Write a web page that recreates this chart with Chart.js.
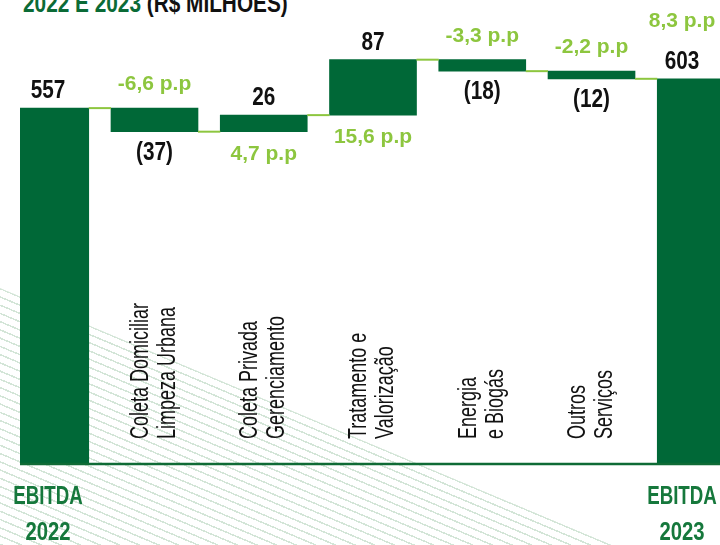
<!DOCTYPE html>
<html lang="pt-BR">
<head>
<meta charset="utf-8">
<title>EBITDA 2022 e 2023</title>
<script src="https://cdn.jsdelivr.net/npm/chart.js@4.4.0/dist/chart.umd.min.js"></script>
<style>
  html, body { margin: 0; padding: 0; background: #fff; }
  #wrap { position: relative; width: 720px; height: 545px; overflow: hidden; }
  #hatch {
    position: absolute; left: 0; top: 0; width: 720px; height: 545px;
    background: repeating-linear-gradient(22.8deg, #d3e5d7 0 1.5px, transparent 1.5px 7.6px);
    clip-path: polygon(0 288px, 612px 545px, 0 545px);
  }
  #title {
    position: absolute; left: 23px; top: -10px; white-space: nowrap;
    font: bold 26px "Liberation Sans", Arial, sans-serif;
    line-height: 26px; color: #111;
    transform: scaleX(0.8); transform-origin: 0 0;
  }
  #title .g { color: #0b6b36; }
  canvas { position: absolute; left: 0; top: 0; }
</style>
</head>
<body>
<div id="wrap">
  <div id="hatch"></div>
  <div id="title"><span class="g">2022 E 2023</span> (R$ MILHÕES)</div>
  <canvas id="chart" width="720" height="545"></canvas>
</div>
<script>
// categorias (duas linhas cada)
const categories = [
  ['EBITDA', '2022'],
  ['Coleta Domiciliar', 'Limpeza Urbana'],
  ['Coleta Privada', 'Gerenciamento'],
  ['Tratamento e', 'Valorização'],
  ['Energia', 'e Biogás'],
  ['Outros', 'Serviços'],
  ['EBITDA', '2023']
];
const changes = [557, -37, 26, 87, -18, -12, 603];
const isTotal = [true, false, false, false, false, false, true];
const marginPp = ['', '-6,6 p.p', '4,7 p.p', '15,6 p.p', '-3,3 p.p', '-2,2 p.p', '8,3 p.p'];

const darkGreen = '#006837';
const lime = '#8dc63f';
const labelGreen = '#16783c';
const sans = '"Liberation Sans", Arial, sans-serif';
const numFont = 'bold 25px ' + sans;
const ppFont = 'bold 21px ' + sans;

// barras flutuantes do waterfall
let running = 0;
const levels = [];
const barData = changes.map((v, i) => {
  let lo, hi;
  if (isTotal[i]) {
    lo = 0; hi = v;
  } else {
    lo = running; hi = running + v;
  }
  running = hi;
  levels.push(running);
  return { x: i, y: [lo, hi] };
});

function valueText(v) {
  return v < 0 ? '(' + Math.abs(v) + ')' : String(v);
}

// texto condensado (a fonte original é uma condensada)
function drawText(ctx, str, x, y, font, color, squeeze) {
  ctx.save();
  ctx.translate(x, y);
  ctx.scale(squeeze, 1);
  ctx.font = font;
  ctx.fillStyle = color;
  ctx.fillText(str, 0, 0);
  ctx.restore();
}

const waterfallLabels = {
  id: 'waterfallLabels',
  afterDatasetsDraw(chart) {
    const ctx = chart.ctx;
    const area = chart.chartArea;
    const yScale = chart.scales.y;
    const bars = chart.getDatasetMeta(0).data;
    ctx.save();

    // linhas de ligação
    ctx.strokeStyle = lime;
    ctx.lineWidth = 2;
    for (let i = 0; i < bars.length - 1; i++) {
      const yy = yScale.getPixelForValue(levels[i]);
      ctx.beginPath();
      ctx.moveTo(bars[i].x + bars[i].width / 2, yy);
      ctx.lineTo(bars[i + 1].x - bars[i + 1].width / 2, yy);
      ctx.stroke();
    }

    // eixo
    const y0 = yScale.getPixelForValue(0);
    ctx.strokeStyle = '#0f6b35';
    ctx.lineWidth = 2.5;
    ctx.beginPath();
    ctx.moveTo(area.left, y0 + 1);
    ctx.lineTo(area.right, y0 + 1);
    ctx.stroke();

    ctx.textAlign = 'center';
    ctx.textBaseline = 'alphabetic';
    bars.forEach((bar, i) => {
      const top = Math.min(bar.y, bar.base);
      const bottom = Math.max(bar.y, bar.base);
      const v = changes[i];
      let cx = bar.x;
      if (isTotal[i]) {
        cx = Math.min(Math.max(cx, area.left + 28), area.right - 38);
        drawText(ctx, valueText(v), cx, top - 10, numFont, '#111', 0.83);
        if (marginPp[i]) {
          drawText(ctx, marginPp[i], cx, top - 52, ppFont, lime, 1);
        }
        drawText(ctx, categories[i][0], cx, y0 + 41, 'bold 26px ' + sans, labelGreen, 0.72);
        drawText(ctx, categories[i][1], cx, y0 + 77, 'bold 26px ' + sans, labelGreen, 0.78);
        return;
      }
      if (v < 0) {
        drawText(ctx, marginPp[i], cx, top - 18, ppFont, lime, 1);
        drawText(ctx, valueText(v), cx, bottom + 28, numFont, '#111', 0.83);
      } else {
        drawText(ctx, valueText(v), cx, top - 10, numFont, '#111', 0.83);
        drawText(ctx, marginPp[i], cx, bottom + 28, ppFont, lime, 1);
      }

      // rótulo da categoria, vertical
      ctx.save();
      ctx.translate(cx, y0 - 24);
      ctx.rotate(-Math.PI / 2);
      ctx.textAlign = 'left';
      ctx.textBaseline = 'middle';
      const lines = categories[i];
      lines.forEach((ln, k) => {
        drawText(ctx, ln, 0, (k - (lines.length - 1) / 2) * 27, '25px ' + sans, '#111', 0.72);
      });
      ctx.restore();
    });
    ctx.restore();
  }
};

new Chart(document.getElementById('chart'), {
  type: 'bar',
  data: {
    datasets: [{
      data: barData,
      backgroundColor: darkGreen,
      borderWidth: 0,
      barThickness: 87,
      clip: 0
    }]
  },
  options: {
    responsive: false,
    animation: false,
    layout: { padding: { left: 20, right: 0, top: 17, bottom: 82 } },
    scales: {
      x: { type: 'linear', min: -0.231, max: 6.176, offset: false, display: false },
      y: { min: 0, max: 700, display: false }
    },
    plugins: {
      legend: { display: false },
      tooltip: { enabled: false }
    }
  },
  plugins: [waterfallLabels]
});
</script>
</body>
</html>
